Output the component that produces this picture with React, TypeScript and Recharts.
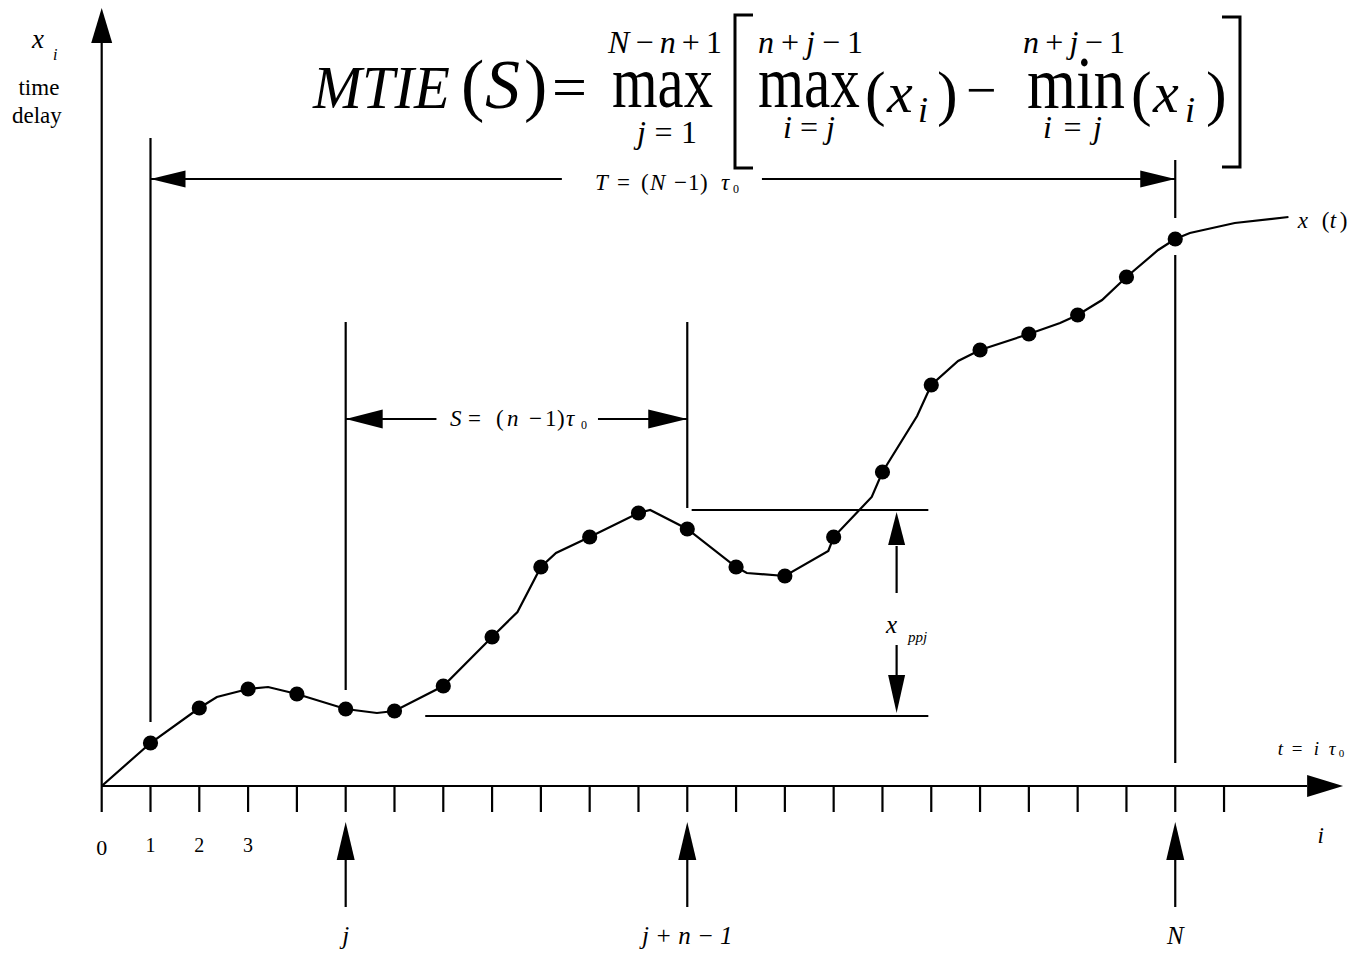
import React from 'react'
import {
  ComposedChart,
  Line,
  Scatter,
  XAxis,
  YAxis,
  ReferenceLine,
  ReferenceDot,
} from 'recharts'

// sample index i (tau0 steps) and measured time delay x_i, N = 22 samples
const sampleIdx = [1, 2, 3, 4, 5, 6, 7, 8, 9, 10, 11, 12, 13, 14, 15, 16, 17, 18, 19, 20, 21, 22]
const sampleDelay = [
  4.3, 7.8, 9.7, 9.2, 7.7, 7.5, 10.0, 14.9, 21.9, 24.9, 27.3,
  25.7, 21.9, 21.0, 24.9, 31.4, 40.1, 43.6, 45.2, 47.1, 50.9, 54.7,
]

// the continuous x(t) curve, read at the corners of the drawn polyline
const curveT = [
  0, 1, 2, 2.36, 3, 3.41, 4, 5, 5.64, 6, 7, 8, 8.52, 9, 9.31, 10, 11, 11.24, 12, 13,
  13.22, 14, 14.89, 15, 15.78, 16, 16.71, 17, 17.55, 18, 19, 19.64, 20, 20.5, 21, 21.65,
  22, 22.3, 23.22, 24.32,
]
const curveX = [
  0, 4.3, 7.8, 8.9, 9.7, 9.9, 9.2, 7.7, 7.3, 7.5, 10.0, 14.9, 17.4, 21.9, 23.3, 24.9, 27.3, 27.6, 25.7, 21.9,
  21.3, 21.0, 23.5, 24.9, 28.9, 31.4, 37.0, 40.1, 42.5, 43.6, 45.2, 46.3, 47.1, 48.6, 50.9, 53.6,
  54.7, 55.3, 56.3, 56.9,
]

const tickIdx = [0, 1, 2, 3, 4, 5, 6, 7, 8, 9, 10, 11, 12, 13, 14, 15, 16, 17, 18, 19, 20, 21, 22, 23]
const tickLabels = ['0', '1', '2', '3']

// window start j, window end j+n-1, last sample N
const markIdx = [5, 12, 22]
const markLabels = ['j', 'j + n \u2212 1', 'N']

const SERIF = '"Liberation Serif", "Times New Roman", serif'
const ink = '#000'
const lw = 2.2
const MINUS = '\u2212'
const TAU = '\u03c4'

function Arrow({ cx, cy, dir, len = 36, half = 9 }: any) {
  const d: Record<string, number[]> = { up: [0, 1], down: [0, -1], left: [1, 0], right: [-1, 0] }
  const [dx, dy] = d[dir]
  const bx = cx + dx * len
  const by = cy + dy * len
  const px = -dy * half
  const py = dx * half
  return <polygon points={`${cx},${cy} ${bx + px},${by + py} ${bx - px},${by - py}`} fill={ink} />
}

function AxisTick({ x, y, payload }: any) {
  const label = tickLabels[payload.value]
  if (!label) return <g />
  const zero = payload.value === 0
  return (
    <text x={x} y={y + (zero ? 41 : 38)} textAnchor="middle" fontFamily={SERIF} fontSize={zero ? 22 : 20} fill={ink}>
      {label}
    </text>
  )
}

// the MTIE definition, typeset as one text block
function Formula({ cx, cy }: any) {
  const X = (d: number) => cx + d
  const Y = (d: number) => cy + d
  return (
    <g fill={ink}>
      <text fontFamily={SERIF}>
        <tspan x={X(0)} y={Y(0)} fontSize={62} fontStyle="italic" textLength={137} lengthAdjust="spacingAndGlyphs">MTIE</tspan>
        <tspan x={X(148)} y={Y(0)} fontSize={70}>(</tspan>
        <tspan x={X(172)} y={Y(0)} fontSize={70} fontStyle="italic">S</tspan>
        <tspan x={X(211)} y={Y(0)} fontSize={70}>)</tspan>
        <tspan x={X(239)} y={Y(0)} fontSize={62}>=</tspan>

        <tspan x={X(295)} y={Y(-55)} fontSize={32} textLength={114}>
          <tspan fontStyle="italic">N</tspan>{MINUS}<tspan fontStyle="italic">n</tspan>+1
        </tspan>
        <tspan x={X(299)} y={Y(-1)} fontSize={74} textLength={101} lengthAdjust="spacingAndGlyphs">max</tspan>
        <tspan x={X(324)} y={Y(35)} fontSize={32} textLength={60}>
          <tspan fontStyle="italic">j</tspan>=1
        </tspan>

        <tspan x={X(445)} y={Y(-55)} fontSize={32} textLength={105}>
          <tspan fontStyle="italic">n</tspan>+<tspan fontStyle="italic">j</tspan>{MINUS}1
        </tspan>
        <tspan x={X(445)} y={Y(-1)} fontSize={74} textLength={102} lengthAdjust="spacingAndGlyphs">max</tspan>
        <tspan x={X(470)} y={Y(30)} fontSize={32} textLength={52}>
          <tspan fontStyle="italic">i</tspan>=<tspan fontStyle="italic">j</tspan>
        </tspan>
        <tspan x={X(552)} y={Y(6)} fontSize={62}>(</tspan>
        <tspan x={X(574)} y={Y(4)} fontSize={58} fontStyle="italic">x</tspan>
        <tspan x={X(605)} y={Y(14)} fontSize={36} fontStyle="italic">i</tspan>
        <tspan x={X(624)} y={Y(6)} fontSize={62}>)</tspan>

        <tspan x={X(653)} y={Y(0)} fontSize={54}>{MINUS}</tspan>

        <tspan x={X(710)} y={Y(-55)} fontSize={32} textLength={102}>
          <tspan fontStyle="italic">n</tspan>+<tspan fontStyle="italic">j</tspan>{MINUS}1
        </tspan>
        <tspan x={X(714)} y={Y(0)} fontSize={74} textLength={98} lengthAdjust="spacingAndGlyphs">min</tspan>
        <tspan x={X(730)} y={Y(30)} fontSize={32} textLength={59}>
          <tspan fontStyle="italic">i</tspan>=<tspan fontStyle="italic">j</tspan>
        </tspan>
        <tspan x={X(818)} y={Y(6)} fontSize={62}>(</tspan>
        <tspan x={X(840)} y={Y(4)} fontSize={58} fontStyle="italic">x</tspan>
        <tspan x={X(872)} y={Y(14)} fontSize={36} fontStyle="italic">i</tspan>
        <tspan x={X(893)} y={Y(6)} fontSize={62}>)</tspan>
      </text>
      <path d={`M${X(440)},${Y(-93)} H${X(422)} V${Y(60)} H${X(440)}`} fill="none" stroke={ink} strokeWidth={3} />
      <path d={`M${X(909)},${Y(-91)} H${X(927)} V${Y(59)} H${X(909)}`} fill="none" stroke={ink} strokeWidth={3} />
    </g>
  )
}

// a point in data space carrying a custom drawing
const at = (key: string, x: number, y: number, draw: (cx: number, cy: number) => any) => (
  <ReferenceDot key={key} x={x} y={y} r={0} ifOverflow="visible" shape={(p: any) => draw(p.cx, p.cy)} />
)

const seg = (key: string, x1: number, y1: number, x2: number, y2: number) => (
  <ReferenceLine
    key={key}
    segment={[{ x: x1, y: y1 }, { x: x2, y: y2 }]}
    stroke={ink}
    strokeWidth={lw}
    ifOverflow="visible"
  />
)

export default function App() {
  const samples = sampleIdx.map((i, k) => ({ i, v: sampleDelay[k] }))
  const curve = curveT.map((i, k) => ({ i, v: curveX[k] }))

  const T_LEVEL = 60.7
  const S_LEVEL = 36.7
  const PP_TOP = 27.6
  const PP_BOT = 7.0

  return (
    <div style={{ position: 'absolute', left: 0, top: 0, width: 1355, height: 956, background: '#fff' }}>
      <ComposedChart width={1355} height={956} margin={{ top: 6, right: 48, bottom: 110, left: 101.7 }}>
        <XAxis
          type="number"
          dataKey="i"
          domain={[0, 24.7]}
          ticks={tickIdx}
          interval={0}
          tickSize={26}
          height={60}
          allowDataOverflow
          axisLine={{ stroke: ink, strokeWidth: lw }}
          tickLine={{ stroke: ink, strokeWidth: lw }}
          tick={<AxisTick />}
        />
        <YAxis type="number" domain={[0, 78]} hide allowDataOverflow />

        {/* axes arrows */}
        {seg('yaxis', 0, 0, 0, 74.5)}
        {at('yarrow', 0, 77.8, (cx, cy) => <Arrow cx={cx} cy={cy} dir="up" len={35} half={10.5} />)}
        {at('xarrow', 25.44, 0, (cx, cy) => <Arrow cx={cx} cy={cy} dir="right" len={36} half={11} />)}

        {/* T span */}
        {seg('v1', 1, 6.4, 1, 64.8)}
        {seg('vN1', 22, 56.8, 22, 62.6)}
        {seg('vN2', 22, 2.3, 22, 53.1)}
        {seg('tl', 1, T_LEVEL, 9.43, T_LEVEL)}
        {seg('tr', 13.53, T_LEVEL, 22, T_LEVEL)}
        {at('tla', 1, T_LEVEL, (cx, cy) => <Arrow cx={cx} cy={cy} dir="left" len={35} half={8.5} />)}
        {at('tra', 22, T_LEVEL, (cx, cy) => <Arrow cx={cx} cy={cy} dir="right" len={35} half={8.5} />)}
        {at('tlabel', 10.11, 59.6, (cx, cy) => (
          <text fontFamily={SERIF} fontSize={23} fill={ink}>
            <tspan x={cx} y={cy} fontStyle="italic">T</tspan>
            <tspan x={cx + 22} y={cy}>=</tspan>
            <tspan x={cx + 46} y={cy}>(</tspan>
            <tspan x={cx + 55} y={cy} fontStyle="italic">N</tspan>
            <tspan x={cx + 79} y={cy}>{MINUS}</tspan>
            <tspan x={cx + 93} y={cy}>1</tspan>
            <tspan x={cx + 105} y={cy}>)</tspan>
            <tspan x={cx + 126} y={cy} fontStyle="italic">{TAU}</tspan>
            <tspan x={cx + 138} y={cy + 3} fontSize={12}>0</tspan>
          </text>
        ))}

        {/* S window */}
        {seg('v5', 5, 9.6, 5, 46.4)}
        {seg('v12', 12, 27.8, 12, 46.4)}
        {seg('sl', 5, S_LEVEL, 6.86, S_LEVEL)}
        {seg('sr', 10.17, S_LEVEL, 12, S_LEVEL)}
        {at('sla', 5, S_LEVEL, (cx, cy) => <Arrow cx={cx} cy={cy} dir="left" len={37} half={9.5} />)}
        {at('sra', 12, S_LEVEL, (cx, cy) => <Arrow cx={cx} cy={cy} dir="right" len={39} half={9.5} />)}
        {at('slabel', 7.14, 36.0, (cx, cy) => (
          <text fontFamily={SERIF} fontSize={23} fill={ink}>
            <tspan x={cx} y={cy} fontStyle="italic">S</tspan>
            <tspan x={cx + 18} y={cy}>=</tspan>
            <tspan x={cx + 46} y={cy}>(</tspan>
            <tspan x={cx + 57} y={cy} fontStyle="italic">n</tspan>
            <tspan x={cx + 79} y={cy}>{MINUS}</tspan>
            <tspan x={cx + 95} y={cy}>1</tspan>
            <tspan x={cx + 107} y={cy}>)</tspan>
            <tspan x={cx + 116} y={cy} fontStyle="italic">{TAU}</tspan>
            <tspan x={cx + 131} y={cy + 3} fontSize={12}>0</tspan>
          </text>
        ))}

        {/* peak-to-peak within the window */}
        {seg('ppt', 12.09, PP_TOP, 16.94, PP_TOP)}
        {seg('ppb', 6.63, PP_BOT, 16.94, PP_BOT)}
        {seg('ppv1', 16.29, 24.0, 16.29, 19.3)}
        {seg('ppv2', 16.29, 14.1, 16.29, 10.5)}
        {at('ppu', 16.29, 27.4, (cx, cy) => <Arrow cx={cx} cy={cy} dir="up" len={33} half={8.5} />)}
        {at('ppd', 16.29, 7.3, (cx, cy) => <Arrow cx={cx} cy={cy} dir="down" len={38} half={8.5} />)}
        {at('pplabel', 16.07, 15.3, (cx, cy) => (
          <text fontFamily={SERIF} fill={ink} fontStyle="italic">
            <tspan x={cx} y={cy} fontSize={25}>x</tspan>
            <tspan x={cx + 22} y={cy + 9} fontSize={15}>ppj</tspan>
          </text>
        ))}

        {/* markers under the axis */}
        {markIdx.map((m, k) => seg(`ms${k}`, m, -7.0, m, -12.1))}
        {markIdx.map((m, k) => at(`ma${k}`, m, -3.6, (cx, cy) => <Arrow cx={cx} cy={cy} dir="up" len={38} half={9} />))}
        {markIdx.map((m, k) =>
          at(`ml${k}`, m, -15.8, (cx, cy) => (
            <text x={cx} y={cy} textAnchor="middle" fontFamily={SERIF} fontSize={25} fontStyle="italic" fill={ink} style={{ whiteSpace: 'pre' }}>
              {markLabels[k]}
            </text>
          ))
        )}

        {/* axis captions */}
        {at('ylab', -1.43, 73.8, (cx, cy) => (
          <g fontFamily={SERIF} fill={ink}>
            <text fontStyle="italic">
              <tspan x={cx} y={cy} fontSize={27}>x</tspan>
              <tspan x={cx + 21} y={cy + 12} fontSize={16}>i</tspan>
            </text>
            <text x={cx + 7} y={cy + 47} fontSize={23} textAnchor="middle">time</text>
            <text x={cx + 5} y={cy + 75} fontSize={23} textAnchor="middle">delay</text>
          </g>
        ))}
        {at('xt', 24.51, 55.8, (cx, cy) => (
          <text fontFamily={SERIF} fill={ink} fontSize={23}>
            <tspan x={cx} y={cy} fontStyle="italic">x</tspan>
            <tspan x={cx + 24} y={cy}>(</tspan>
            <tspan x={cx + 32} y={cy} fontStyle="italic">t</tspan>
            <tspan x={cx + 42} y={cy}>)</tspan>
          </text>
        ))}
        {at('tdef', 24.1, 3.1, (cx, cy) => (
          <text fontFamily={SERIF} fill={ink} fontSize={19}>
            <tspan x={cx} y={cy} fontStyle="italic">t</tspan>
            <tspan x={cx + 14} y={cy}>=</tspan>
            <tspan x={cx + 36} y={cy} fontStyle="italic">i</tspan>
            <tspan x={cx + 51} y={cy} fontStyle="italic">{TAU}</tspan>
            <tspan x={cx + 61} y={cy + 2} fontSize={11}>0</tspan>
          </text>
        ))}
        {at('ilab', 24.98, -5.7, (cx, cy) => (
          <text x={cx} y={cy} textAnchor="middle" fontFamily={SERIF} fontSize={23} fontStyle="italic" fill={ink}>i</text>
        ))}

        {at('formula', 4.33, 67.8, (cx, cy) => <Formula cx={cx} cy={cy} />)}

        <Line data={curve} dataKey="v" type="linear" stroke={ink} strokeWidth={lw} dot={false} isAnimationActive={false} />
        <Scatter
          data={samples}
          dataKey="v"
          isAnimationActive={false}
          shape={(p: any) => <circle cx={p.cx} cy={p.cy} r={7.6} fill={ink} />}
        />
      </ComposedChart>
    </div>
  )
}
